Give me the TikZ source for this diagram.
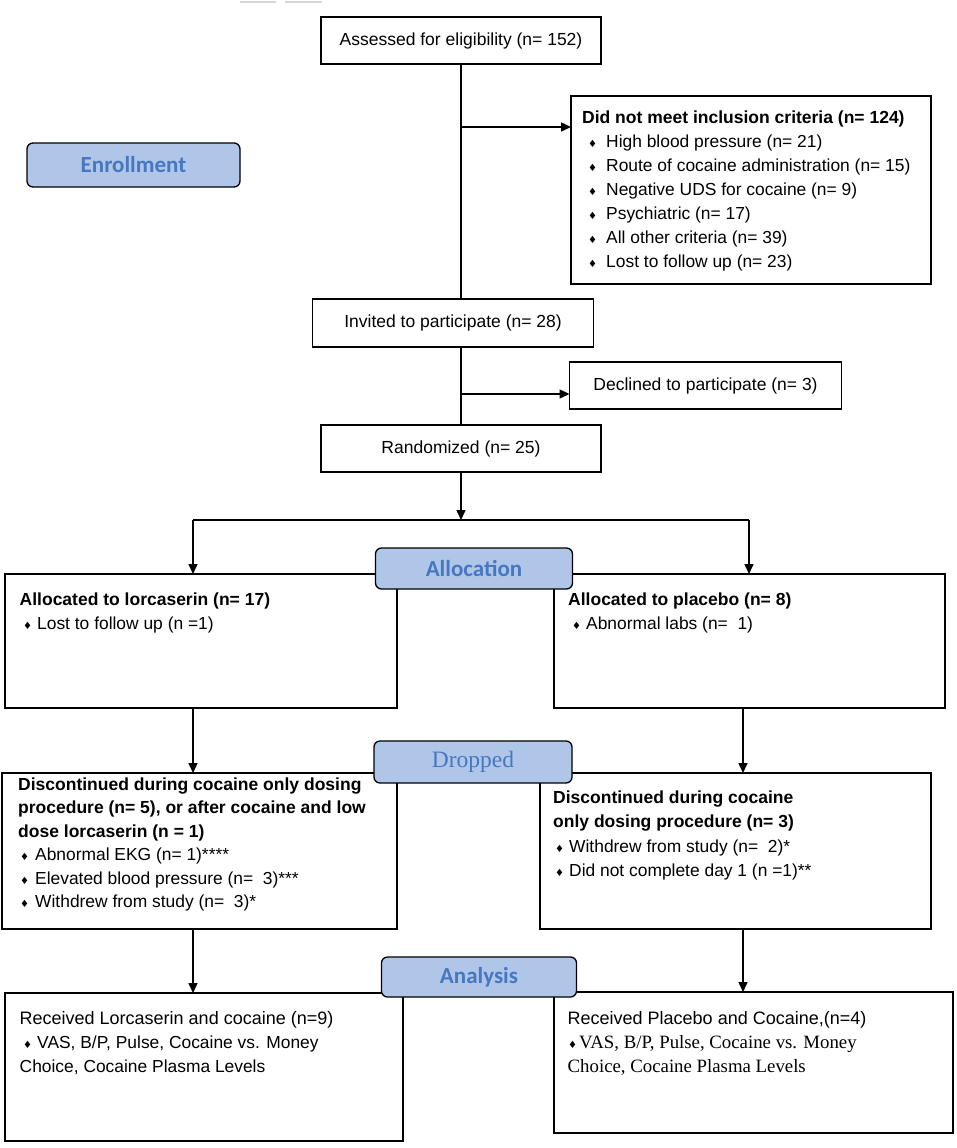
\documentclass[tikz,border=0pt]{standalone}
\usepackage{fontspec}
\setmainfont{Liberation Sans}
\newfontfamily\calib{Carlito}
\newfontfamily\tms{Liberation Serif}
\newfontfamily\dvs{DejaVu Sans}
\usetikzlibrary{arrows.meta}
\definecolor{lblfill}{HTML}{AFC6E9}
\definecolor{lbltext}{HTML}{4677C0}
\definecolor{marks}{HTML}{D4D6DC}
\newcommand\bul{{\dvs\fontsize{10}{10}\selectfont ♦}}
\newcommand\myitem[2]{\makebox[#1pt][l]{\bul}#2}
\begin{document}
\begin{tikzpicture}[x=1pt,y=-1pt,
  box/.style={draw=black,line width=1.5pt,fill=white,rectangle,anchor=north west,inner sep=0pt,outer sep=0pt,font=\fontsize{17.5}{20}\selectfont},
  lbl/.style={draw=black,line width=1.3pt,fill=lblfill,rounded corners=6pt,anchor=north west,inner sep=0pt,outer sep=0pt,text=lbltext,font=\calib\bfseries\fontsize{23}{23}\selectfont},
  txt/.style={anchor=base west,inner sep=0pt,font=\fontsize{17.4}{20}\selectfont},
  atxt/.style={anchor=base west,inner sep=0pt,font=\fontsize{18}{20}\selectfont},
  btxt/.style={anchor=base west,inner sep=0pt,font=\bfseries\fontsize{17.5}{20}\selectfont},
  stxt/.style={anchor=base west,inner sep=0pt,font=\tms\fontsize{18.8}{20}\selectfont},
  conn/.style={line width=1.5pt,draw=black},
  arr/.style={conn,-{Triangle[length=10pt,width=9pt]}},
]
\useasboundingbox (0,0) rectangle (957,1148);

% faint marks at the top
\draw[marks,line width=1.2pt] (240,2) -- (276,2);
\draw[marks,line width=1.2pt] (285,2) -- (322,2);

% boxes
\node[box,minimum width=280pt,minimum height=47pt] (assess) at (321,17) {Assessed for eligibility (n= 152)};
\node[box,minimum width=360pt,minimum height=188pt] (excl) at (571,96) {};
\node[box,minimum width=281pt,minimum height=48pt] (invited) at (312.5,299) {Invited to participate (n= 28)};
\node[box,minimum width=272pt,minimum height=47pt] (declined) at (569.5,362) {Declined to participate (n= 3)};
\node[box,minimum width=280pt,minimum height=47pt] (random) at (321,425) {Randomized (n= 25)};
\node[box,minimum width=392pt,minimum height=134pt] (allocL) at (5,574) {};
\node[box,minimum width=391pt,minimum height=134pt] (allocR) at (554,574) {};
\node[box,minimum width=395pt,minimum height=156pt] (dropL) at (2,773) {};
\node[box,minimum width=391pt,minimum height=156pt] (dropR) at (540,773) {};
\node[box,minimum width=398pt,minimum height=148pt] (anaL) at (5,993) {};
\node[box,minimum width=399pt,minimum height=141pt] (anaR) at (554,992) {};

% helper coordinates
\coordinate (spine) at (461,0);
\coordinate (exclarr) at (461,127);
\coordinate (decarr) at (461,394);
\coordinate (splitL) at (193,520);
\coordinate (splitR) at (749,520);
\coordinate (colR) at (743,0);

% connectors
\draw[conn] (spine |- assess.south) -- (spine |- invited.north);
\draw[arr] (exclarr) -- (exclarr -| excl.west);
\draw[conn] (spine |- invited.south) -- (spine |- random.north);
\draw[arr] (decarr) -- (decarr -| declined.west);
\draw[arr] (spine |- random.south) -- (spine |- splitL);
\draw[conn] (splitL) -- (splitR);
\draw[arr] (splitL) -- (splitL |- allocL.north);
\draw[arr] (splitR) -- (splitR |- allocR.north);
\draw[arr] (splitL |- allocL.south) -- (splitL |- dropL.north);
\draw[arr] (colR |- allocR.south) -- (colR |- dropR.north);
\draw[arr] (splitL |- dropL.south) -- (splitL |- anaL.north);
\draw[arr] (colR |- dropR.south) -- (colR |- anaR.north);

% phase labels
\node[lbl,minimum width=213pt,minimum height=44pt] (enroll) at (27,143) {Enrollment};
\node[lbl,minimum width=197pt,minimum height=41pt] (allocation) at (375.5,548) {Allocation};
\node[lbl,minimum width=198pt,minimum height=42pt,font=\tms\fontsize{23.5}{23.5}\selectfont] (dropped) at (374,741) {Dropped};
\node[lbl,minimum width=195pt,minimum height=40pt] (analysis) at (381.5,957) {Analysis};

% exclusion text
\node[btxt] (ex0) at (582,123) {Did not meet inclusion criteria (n= 124)};
\node[txt] (ex1) at (588,147) {\myitem{18}{High blood pressure (n= 21)}};
\node[txt] (ex2) at (588,171) {\myitem{18}{Route of cocaine administration (n= 15)}};
\node[txt] (ex3) at (588,195) {\myitem{18}{Negative UDS for cocaine (n= 9)}};
\node[txt] (ex4) at (588,219) {\myitem{18}{Psychiatric (n= 17)}};
\node[txt] (ex5) at (588,243) {\myitem{18}{All other criteria (n= 39)}};
\node[txt] (ex6) at (588,267) {\myitem{18}{Lost to follow up (n= 23)}};

% allocation text
\node[btxt] (al0) at (19.5,605) {Allocated to lorcaserin (n= 17)};
\node[txt] (al1) at (23,629) {\myitem{14}{Lost to follow up (n =1)}};
\node[btxt] (ar0) at (568,605) {Allocated to placebo (n= 8)};
\node[txt] (ar1) at (572,629) {\myitem{14}{Abnormal labs (n=\ \ 1)}};

% dropped text
\node[btxt] (dl0) at (18,790) {Discontinued during cocaine only dosing};
\node[btxt] (dl1) at (18,813.5) {procedure (n= 5), or after cocaine and low};
\node[btxt] (dl2) at (18,837) {dose lorcaserin (n = 1)};
\node[txt] (dl3) at (20,860.5) {\myitem{15}{Abnormal EKG (n= 1)****}};
\node[txt] (dl4) at (20,884) {\myitem{15}{Elevated blood pressure (n=\ \ 3)***}};
\node[txt] (dl5) at (20,907.5) {\myitem{15}{Withdrew from study (n=\ \ 3)*}};
\node[btxt] (dr0) at (553,803) {Discontinued during cocaine};
\node[btxt] (dr1) at (553,827) {only dosing procedure (n= 3)};
\node[txt] (dr2) at (555,852) {\myitem{14}{Withdrew from study (n=\ \ 2)*}};
\node[txt] (dr3) at (555,876) {\myitem{14}{Did not complete day 1 (n =1)**}};

% analysis text
\node[atxt] (nl0) at (19.5,1024) {Received Lorcaserin and cocaine (n=9)};
\node[txt] (nl1) at (23,1048) {\myitem{14}{VAS, B/P, Pulse, Cocaine vs. Money}};
\node[txt] (nl2) at (19.5,1072) {Choice, Cocaine Plasma Levels};
\node[atxt] (nr0) at (567.5,1024) {Received Placebo and Cocaine,(n=4)};
\node[stxt] (nr1) at (568,1048) {\myitem{11}{VAS, B/P, Pulse, Cocaine vs. Money}};
\node[stxt] (nr2) at (567.5,1072) {Choice, Cocaine Plasma Levels};
\end{tikzpicture}
\end{document}
